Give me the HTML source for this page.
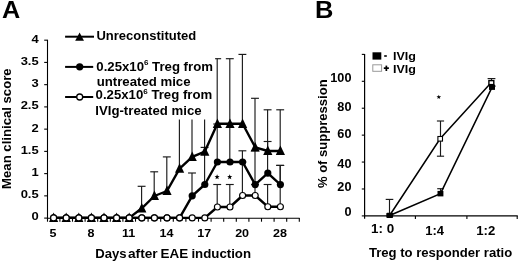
<!DOCTYPE html>
<html><head><meta charset="utf-8"><style>
html,body{margin:0;padding:0;background:#fff;}
svg{display:block;filter:grayscale(1);}
text{font-family:"Liberation Sans",sans-serif;font-weight:bold;}
</style></head><body>
<svg width="520" height="263" viewBox="0 0 520 263">
<rect width="520" height="263" fill="#fff"/>
<text transform="translate(2.10,17.80) scale(1.030,1)" font-size="24.5" >A</text>
<line x1="47.5" y1="39.78" x2="47.5" y2="218.70" stroke="#000" stroke-width="1.1"/>
<line x1="44.2" y1="218.10" x2="47.5" y2="218.10" stroke="#000" stroke-width="1.1"/>
<text transform="translate(38.70,220.21) scale(1.150,1)" font-size="11.3" text-anchor="end" >0</text>
<line x1="44.2" y1="195.86" x2="47.5" y2="195.86" stroke="#000" stroke-width="1.1"/>
<text transform="translate(38.70,198.16) scale(1.150,1)" font-size="11.3" text-anchor="end" >0.5</text>
<line x1="44.2" y1="173.62" x2="47.5" y2="173.62" stroke="#000" stroke-width="1.1"/>
<text transform="translate(38.70,176.16) scale(1.150,1)" font-size="11.3" text-anchor="end" >1</text>
<line x1="44.2" y1="151.38" x2="47.5" y2="151.38" stroke="#000" stroke-width="1.1"/>
<text transform="translate(38.70,153.66) scale(1.150,1)" font-size="11.3" text-anchor="end" >1.5</text>
<line x1="44.2" y1="129.14" x2="47.5" y2="129.14" stroke="#000" stroke-width="1.1"/>
<text transform="translate(38.70,131.56) scale(1.150,1)" font-size="11.3" text-anchor="end" >2</text>
<line x1="44.2" y1="106.90" x2="47.5" y2="106.90" stroke="#000" stroke-width="1.1"/>
<text transform="translate(38.70,109.05) scale(1.150,1)" font-size="11.3" text-anchor="end" >2.5</text>
<line x1="44.2" y1="84.66" x2="47.5" y2="84.66" stroke="#000" stroke-width="1.1"/>
<text transform="translate(38.70,87.36) scale(1.150,1)" font-size="11.3" text-anchor="end" >3</text>
<line x1="44.2" y1="62.42" x2="47.5" y2="62.42" stroke="#000" stroke-width="1.1"/>
<text transform="translate(38.70,64.86) scale(1.150,1)" font-size="11.3" text-anchor="end" >3.5</text>
<line x1="44.2" y1="40.18" x2="47.5" y2="40.18" stroke="#000" stroke-width="1.1"/>
<text transform="translate(38.70,43.30) scale(1.150,1)" font-size="11.3" text-anchor="end" >4</text>
<line x1="47.5" y1="218.30" x2="299.6" y2="218.30" stroke="#000" stroke-width="1.1"/>
<line x1="47.50" y1="218.10" x2="47.50" y2="221.70" stroke="#000" stroke-width="1.1"/>
<line x1="59.90" y1="218.10" x2="59.90" y2="221.70" stroke="#000" stroke-width="1.1"/>
<line x1="72.50" y1="218.10" x2="72.50" y2="221.70" stroke="#000" stroke-width="1.1"/>
<line x1="85.10" y1="218.10" x2="85.10" y2="221.70" stroke="#000" stroke-width="1.1"/>
<line x1="97.70" y1="218.10" x2="97.70" y2="221.70" stroke="#000" stroke-width="1.1"/>
<line x1="110.30" y1="218.10" x2="110.30" y2="221.70" stroke="#000" stroke-width="1.1"/>
<line x1="122.90" y1="218.10" x2="122.90" y2="221.70" stroke="#000" stroke-width="1.1"/>
<line x1="135.50" y1="218.10" x2="135.50" y2="221.70" stroke="#000" stroke-width="1.1"/>
<line x1="148.10" y1="218.10" x2="148.10" y2="221.70" stroke="#000" stroke-width="1.1"/>
<line x1="160.70" y1="218.10" x2="160.70" y2="221.70" stroke="#000" stroke-width="1.1"/>
<line x1="173.30" y1="218.10" x2="173.30" y2="221.70" stroke="#000" stroke-width="1.1"/>
<line x1="185.90" y1="218.10" x2="185.90" y2="221.70" stroke="#000" stroke-width="1.1"/>
<line x1="198.50" y1="218.10" x2="198.50" y2="221.70" stroke="#000" stroke-width="1.1"/>
<line x1="211.10" y1="218.10" x2="211.10" y2="221.70" stroke="#000" stroke-width="1.1"/>
<line x1="223.70" y1="218.10" x2="223.70" y2="221.70" stroke="#000" stroke-width="1.1"/>
<line x1="236.30" y1="218.10" x2="236.30" y2="221.70" stroke="#000" stroke-width="1.1"/>
<line x1="248.90" y1="218.10" x2="248.90" y2="221.70" stroke="#000" stroke-width="1.1"/>
<line x1="261.50" y1="218.10" x2="261.50" y2="221.70" stroke="#000" stroke-width="1.1"/>
<line x1="274.10" y1="218.10" x2="274.10" y2="221.70" stroke="#000" stroke-width="1.1"/>
<line x1="286.70" y1="218.10" x2="286.70" y2="221.70" stroke="#000" stroke-width="1.1"/>
<line x1="299.30" y1="218.10" x2="299.30" y2="221.70" stroke="#000" stroke-width="1.1"/>
<text transform="translate(53.10,237.40) scale(1.100,1)" font-size="11.4" text-anchor="middle" >5</text>
<text transform="translate(90.90,237.40) scale(1.100,1)" font-size="11.4" text-anchor="middle" >8</text>
<text transform="translate(128.70,237.40) scale(1.100,1)" font-size="11.4" text-anchor="middle" >11</text>
<text transform="translate(166.50,237.40) scale(1.100,1)" font-size="11.4" text-anchor="middle" >14</text>
<text transform="translate(204.30,237.40) scale(1.100,1)" font-size="11.4" text-anchor="middle" >17</text>
<text transform="translate(242.10,237.40) scale(1.100,1)" font-size="11.4" text-anchor="middle" >20</text>
<text transform="translate(279.90,237.40) scale(1.100,1)" font-size="11.4" text-anchor="middle" >28</text>
<text transform="translate(95.35,258.40)" font-size="13.1" >Days</text>
<text transform="translate(128.00,258.40) scale(1.045,1)" font-size="13.1" >after</text>
<text transform="translate(160.60,258.40) scale(1.027,1)" font-size="13.1" >EAE</text>
<text transform="translate(191.40,258.40) scale(1.013,1)" font-size="13.1" >induction</text>
<text transform="translate(11.30,188.90) rotate(-90)" font-size="13.15" >Mean clinical score</text>
<line x1="141.60" y1="208.30" x2="141.60" y2="186.30" stroke="#1a1a1a" stroke-width="1.15"/><line x1="137.65" y1="186.30" x2="145.55" y2="186.30" stroke="#1a1a1a" stroke-width="1.15"/>
<line x1="154.20" y1="196.00" x2="154.20" y2="171.80" stroke="#1a1a1a" stroke-width="1.15"/><line x1="150.25" y1="171.80" x2="158.15" y2="171.80" stroke="#1a1a1a" stroke-width="1.15"/>
<line x1="166.80" y1="191.00" x2="166.80" y2="156.90" stroke="#1a1a1a" stroke-width="1.15"/><line x1="162.85" y1="156.90" x2="170.75" y2="156.90" stroke="#1a1a1a" stroke-width="1.15"/>
<line x1="179.40" y1="168.60" x2="179.40" y2="100.00" stroke="#1a1a1a" stroke-width="1.15"/><line x1="175.45" y1="100.00" x2="183.35" y2="100.00" stroke="#1a1a1a" stroke-width="1.15"/>
<line x1="192.00" y1="156.80" x2="192.00" y2="100.00" stroke="#1a1a1a" stroke-width="1.15"/><line x1="188.05" y1="100.00" x2="195.95" y2="100.00" stroke="#1a1a1a" stroke-width="1.15"/>
<line x1="204.60" y1="151.60" x2="204.60" y2="100.00" stroke="#1a1a1a" stroke-width="1.15"/><line x1="200.65" y1="100.00" x2="208.55" y2="100.00" stroke="#1a1a1a" stroke-width="1.15"/>
<line x1="217.20" y1="123.80" x2="217.20" y2="58.70" stroke="#1a1a1a" stroke-width="1.15"/><line x1="213.25" y1="58.70" x2="221.15" y2="58.70" stroke="#1a1a1a" stroke-width="1.15"/>
<line x1="229.80" y1="123.80" x2="229.80" y2="58.70" stroke="#1a1a1a" stroke-width="1.15"/><line x1="225.85" y1="58.70" x2="233.75" y2="58.70" stroke="#1a1a1a" stroke-width="1.15"/>
<line x1="242.40" y1="123.80" x2="242.40" y2="54.40" stroke="#1a1a1a" stroke-width="1.15"/><line x1="238.45" y1="54.40" x2="246.35" y2="54.40" stroke="#1a1a1a" stroke-width="1.15"/>
<line x1="255.00" y1="147.30" x2="255.00" y2="98.30" stroke="#1a1a1a" stroke-width="1.15"/><line x1="251.05" y1="98.30" x2="258.95" y2="98.30" stroke="#1a1a1a" stroke-width="1.15"/>
<line x1="267.60" y1="151.00" x2="267.60" y2="109.80" stroke="#1a1a1a" stroke-width="1.15"/><line x1="263.65" y1="109.80" x2="271.55" y2="109.80" stroke="#1a1a1a" stroke-width="1.15"/>
<line x1="280.20" y1="151.00" x2="280.20" y2="109.80" stroke="#1a1a1a" stroke-width="1.15"/><line x1="276.25" y1="109.80" x2="284.15" y2="109.80" stroke="#1a1a1a" stroke-width="1.15"/>
<line x1="192.00" y1="195.80" x2="192.00" y2="173.00" stroke="#1a1a1a" stroke-width="1.15"/><line x1="188.05" y1="173.00" x2="195.95" y2="173.00" stroke="#1a1a1a" stroke-width="1.15"/>
<line x1="204.60" y1="184.50" x2="204.60" y2="147.40" stroke="#1a1a1a" stroke-width="1.15"/><line x1="200.65" y1="147.40" x2="208.55" y2="147.40" stroke="#1a1a1a" stroke-width="1.15"/>
<line x1="217.20" y1="162.00" x2="217.20" y2="124.00" stroke="#1a1a1a" stroke-width="1.15"/><line x1="213.25" y1="124.00" x2="221.15" y2="124.00" stroke="#1a1a1a" stroke-width="1.15"/>
<line x1="229.80" y1="162.00" x2="229.80" y2="124.00" stroke="#1a1a1a" stroke-width="1.15"/><line x1="225.85" y1="124.00" x2="233.75" y2="124.00" stroke="#1a1a1a" stroke-width="1.15"/>
<line x1="242.40" y1="162.00" x2="242.40" y2="150.80" stroke="#1a1a1a" stroke-width="1.15"/><line x1="238.45" y1="150.80" x2="246.35" y2="150.80" stroke="#1a1a1a" stroke-width="1.15"/>
<line x1="255.00" y1="184.60" x2="255.00" y2="150.80" stroke="#1a1a1a" stroke-width="1.15"/><line x1="251.05" y1="150.80" x2="258.95" y2="150.80" stroke="#1a1a1a" stroke-width="1.15"/>
<line x1="267.60" y1="173.10" x2="267.60" y2="141.50" stroke="#1a1a1a" stroke-width="1.15"/><line x1="263.65" y1="141.50" x2="271.55" y2="141.50" stroke="#1a1a1a" stroke-width="1.15"/>
<line x1="280.20" y1="184.60" x2="280.20" y2="165.40" stroke="#1a1a1a" stroke-width="1.15"/><line x1="276.25" y1="165.40" x2="284.15" y2="165.40" stroke="#1a1a1a" stroke-width="1.15"/>
<line x1="217.20" y1="207.00" x2="217.20" y2="184.50" stroke="#1a1a1a" stroke-width="1.15"/><line x1="213.25" y1="184.50" x2="221.15" y2="184.50" stroke="#1a1a1a" stroke-width="1.15"/>
<line x1="229.80" y1="207.00" x2="229.80" y2="184.50" stroke="#1a1a1a" stroke-width="1.15"/><line x1="225.85" y1="184.50" x2="233.75" y2="184.50" stroke="#1a1a1a" stroke-width="1.15"/>
<line x1="242.40" y1="195.50" x2="242.40" y2="162.00" stroke="#1a1a1a" stroke-width="1.15"/><line x1="238.45" y1="162.00" x2="246.35" y2="162.00" stroke="#1a1a1a" stroke-width="1.15"/>
<line x1="255.00" y1="195.50" x2="255.00" y2="184.60" stroke="#1a1a1a" stroke-width="1.15"/><line x1="251.05" y1="184.60" x2="258.95" y2="184.60" stroke="#1a1a1a" stroke-width="1.15"/>
<line x1="267.60" y1="206.70" x2="267.60" y2="184.50" stroke="#1a1a1a" stroke-width="1.15"/><line x1="263.65" y1="184.50" x2="271.55" y2="184.50" stroke="#1a1a1a" stroke-width="1.15"/>
<line x1="280.20" y1="206.70" x2="280.20" y2="165.40" stroke="#1a1a1a" stroke-width="1.15"/><line x1="276.25" y1="165.40" x2="284.15" y2="165.40" stroke="#1a1a1a" stroke-width="1.15"/>
<polyline points="53.60,217.90 66.20,217.90 78.80,217.90 91.40,217.90 104.00,217.90 116.60,217.90 129.20,217.90 141.80,208.30 154.40,196.00 167.00,191.00 179.60,168.60 192.20,156.80 204.80,151.60 217.40,123.80 230.00,123.80 242.60,123.80 255.20,147.30 267.80,151.00 280.40,151.00" fill="none" stroke="#000" stroke-width="2.4" stroke-linejoin="round"/>
<path d="M53.60,212.50 L58.20,222.00 L49.00,222.00 Z" fill="#000"/>
<path d="M66.20,212.50 L70.80,222.00 L61.60,222.00 Z" fill="#000"/>
<path d="M78.80,212.50 L83.40,222.00 L74.20,222.00 Z" fill="#000"/>
<path d="M91.40,212.50 L96.00,222.00 L86.80,222.00 Z" fill="#000"/>
<path d="M104.00,212.50 L108.60,222.00 L99.40,222.00 Z" fill="#000"/>
<path d="M116.60,212.50 L121.20,222.00 L112.00,222.00 Z" fill="#000"/>
<path d="M129.20,212.50 L133.80,222.00 L124.60,222.00 Z" fill="#000"/>
<path d="M141.80,202.90 L146.40,212.40 L137.20,212.40 Z" fill="#000"/>
<path d="M154.40,190.60 L159.00,200.10 L149.80,200.10 Z" fill="#000"/>
<path d="M167.00,185.60 L171.60,195.10 L162.40,195.10 Z" fill="#000"/>
<path d="M179.60,163.20 L184.20,172.70 L175.00,172.70 Z" fill="#000"/>
<path d="M192.20,151.40 L196.80,160.90 L187.60,160.90 Z" fill="#000"/>
<path d="M204.80,146.20 L209.40,155.70 L200.20,155.70 Z" fill="#000"/>
<path d="M217.40,118.40 L222.00,127.90 L212.80,127.90 Z" fill="#000"/>
<path d="M230.00,118.40 L234.60,127.90 L225.40,127.90 Z" fill="#000"/>
<path d="M242.60,118.40 L247.20,127.90 L238.00,127.90 Z" fill="#000"/>
<path d="M255.20,141.90 L259.80,151.40 L250.60,151.40 Z" fill="#000"/>
<path d="M267.80,145.60 L272.40,155.10 L263.20,155.10 Z" fill="#000"/>
<path d="M280.40,145.60 L285.00,155.10 L275.80,155.10 Z" fill="#000"/>
<polyline points="53.60,217.90 66.20,217.90 78.80,217.90 91.40,217.90 104.00,217.90 116.60,217.90 129.20,217.90 141.80,217.90 154.40,217.90 167.00,217.90 179.60,217.90 192.20,195.80 204.80,184.50 217.40,162.00 230.00,162.00 242.60,162.00 255.20,184.60 267.80,173.10 280.40,184.60" fill="none" stroke="#000" stroke-width="2.4" stroke-linejoin="round"/>
<circle cx="53.60" cy="217.90" r="3.6" fill="#000"/>
<circle cx="66.20" cy="217.90" r="3.6" fill="#000"/>
<circle cx="78.80" cy="217.90" r="3.6" fill="#000"/>
<circle cx="91.40" cy="217.90" r="3.6" fill="#000"/>
<circle cx="104.00" cy="217.90" r="3.6" fill="#000"/>
<circle cx="116.60" cy="217.90" r="3.6" fill="#000"/>
<circle cx="129.20" cy="217.90" r="3.6" fill="#000"/>
<circle cx="141.80" cy="217.90" r="3.6" fill="#000"/>
<circle cx="154.40" cy="217.90" r="3.6" fill="#000"/>
<circle cx="167.00" cy="217.90" r="3.6" fill="#000"/>
<circle cx="179.60" cy="217.90" r="3.6" fill="#000"/>
<circle cx="192.20" cy="195.80" r="3.6" fill="#000"/>
<circle cx="204.80" cy="184.50" r="3.6" fill="#000"/>
<circle cx="217.40" cy="162.00" r="3.6" fill="#000"/>
<circle cx="230.00" cy="162.00" r="3.6" fill="#000"/>
<circle cx="242.60" cy="162.00" r="3.6" fill="#000"/>
<circle cx="255.20" cy="184.60" r="3.6" fill="#000"/>
<circle cx="267.80" cy="173.10" r="3.6" fill="#000"/>
<circle cx="280.40" cy="184.60" r="3.6" fill="#000"/>
<polyline points="53.60,217.90 66.20,217.90 78.80,217.90 91.40,217.90 104.00,217.90 116.60,217.90 129.20,217.90 141.80,217.90 154.40,217.90 167.00,217.90 179.60,217.90 192.20,217.90 204.80,217.90 217.40,207.00 230.00,207.00 242.60,195.50 255.20,195.50 267.80,206.70 280.40,206.70" fill="none" stroke="#000" stroke-width="2.4" stroke-linejoin="round"/>
<circle cx="53.60" cy="217.90" r="3.0" fill="#fff" stroke="#000" stroke-width="1.15"/>
<circle cx="66.20" cy="217.90" r="3.0" fill="#fff" stroke="#000" stroke-width="1.15"/>
<circle cx="78.80" cy="217.90" r="3.0" fill="#fff" stroke="#000" stroke-width="1.15"/>
<circle cx="91.40" cy="217.90" r="3.0" fill="#fff" stroke="#000" stroke-width="1.15"/>
<circle cx="104.00" cy="217.90" r="3.0" fill="#fff" stroke="#000" stroke-width="1.15"/>
<circle cx="116.60" cy="217.90" r="3.0" fill="#fff" stroke="#000" stroke-width="1.15"/>
<circle cx="129.20" cy="217.90" r="3.0" fill="#fff" stroke="#000" stroke-width="1.15"/>
<circle cx="141.80" cy="217.90" r="3.0" fill="#fff" stroke="#000" stroke-width="1.15"/>
<circle cx="154.40" cy="217.90" r="3.0" fill="#fff" stroke="#000" stroke-width="1.15"/>
<circle cx="167.00" cy="217.90" r="3.0" fill="#fff" stroke="#000" stroke-width="1.15"/>
<circle cx="179.60" cy="217.90" r="3.0" fill="#fff" stroke="#000" stroke-width="1.15"/>
<circle cx="192.20" cy="217.90" r="3.0" fill="#fff" stroke="#000" stroke-width="1.15"/>
<circle cx="204.80" cy="217.90" r="3.0" fill="#fff" stroke="#000" stroke-width="1.15"/>
<circle cx="217.40" cy="207.00" r="3.0" fill="#fff" stroke="#000" stroke-width="1.15"/>
<circle cx="230.00" cy="207.00" r="3.0" fill="#fff" stroke="#000" stroke-width="1.15"/>
<circle cx="242.60" cy="195.50" r="3.0" fill="#fff" stroke="#000" stroke-width="1.15"/>
<circle cx="255.20" cy="195.50" r="3.0" fill="#fff" stroke="#000" stroke-width="1.15"/>
<circle cx="267.80" cy="206.70" r="3.0" fill="#fff" stroke="#000" stroke-width="1.15"/>
<circle cx="280.40" cy="206.70" r="3.0" fill="#fff" stroke="#000" stroke-width="1.15"/>
<polygon points="217.10,174.30 217.78,176.07 219.67,176.17 218.19,177.36 218.69,179.18 217.10,178.15 215.51,179.18 216.01,177.36 214.53,176.17 216.42,176.07" fill="#000"/>
<polygon points="229.70,174.30 230.38,176.07 232.27,176.17 230.79,177.36 231.29,179.18 229.70,178.15 228.11,179.18 228.61,177.36 227.13,176.17 229.02,176.07" fill="#000"/>
<rect x="60" y="27" width="155.1" height="92.5" fill="#fff"/>
<line x1="65.1" y1="36.7" x2="94" y2="36.7" stroke="#000" stroke-width="2"/>
<path d="M79.60,32.50 L84.00,40.80 L75.20,40.80 Z" fill="#000"/>
<text transform="translate(96.40,40.35) scale(0.987,1)" font-size="13.2" >Unreconstituted</text>
<line x1="65.1" y1="66.9" x2="93.2" y2="66.9" stroke="#000" stroke-width="2"/>
<circle cx="79.7" cy="66.8" r="3.65" fill="#000"/>
<text transform="translate(96.30,70.50)" font-size="13.2" >0.25x10<tspan font-size="8" dy="-5.3">6</tspan><tspan dy="5.3"> Treg from</tspan></text>
<text transform="translate(96.70,85.80)" font-size="13.2" >untreated mice</text>
<line x1="65.1" y1="97" x2="93.2" y2="97" stroke="#000" stroke-width="2"/>
<circle cx="79.7" cy="97" r="3.0" fill="#fff" stroke="#000" stroke-width="1.3"/>
<text transform="translate(95.60,99.40)" font-size="13.2" >0.25x10<tspan font-size="8" dy="-5.3">6</tspan><tspan dy="5.3"> Treg from</tspan></text>
<text transform="translate(95.30,114.90)" font-size="13.2" >IVIg-treated mice</text>
<text transform="translate(315.00,17.80) scale(1.040,1)" font-size="24.5" >B</text>
<line x1="364.6" y1="53.98" x2="364.6" y2="218.80" stroke="#000" stroke-width="1.2"/>
<line x1="361.8" y1="215.90" x2="364.6" y2="215.90" stroke="#000" stroke-width="1.1"/>
<line x1="361.8" y1="188.98" x2="364.6" y2="188.98" stroke="#000" stroke-width="1.1"/>
<line x1="361.8" y1="162.06" x2="364.6" y2="162.06" stroke="#000" stroke-width="1.1"/>
<line x1="361.8" y1="135.14" x2="364.6" y2="135.14" stroke="#000" stroke-width="1.1"/>
<line x1="361.8" y1="108.22" x2="364.6" y2="108.22" stroke="#000" stroke-width="1.1"/>
<line x1="361.8" y1="81.30" x2="364.6" y2="81.30" stroke="#000" stroke-width="1.1"/>
<line x1="361.8" y1="54.38" x2="364.6" y2="54.38" stroke="#000" stroke-width="1.1"/>
<text transform="translate(351.50,215.80) scale(1.060,1)" font-size="12" text-anchor="end" >0</text>
<text transform="translate(351.50,190.90) scale(1.060,1)" font-size="12" text-anchor="end" >20</text>
<text transform="translate(351.50,168.30) scale(1.060,1)" font-size="12" text-anchor="end" >40</text>
<text transform="translate(351.50,137.50) scale(1.060,1)" font-size="12" text-anchor="end" >60</text>
<text transform="translate(351.50,110.90) scale(1.060,1)" font-size="12" text-anchor="end" >80</text>
<text transform="translate(351.50,81.60) scale(1.060,1)" font-size="12" text-anchor="end" >100</text>
<line x1="364.6" y1="215.9" x2="517.8" y2="215.9" stroke="#000" stroke-width="1.1"/>
<line x1="415.4" y1="215.9" x2="415.4" y2="219.1" stroke="#000" stroke-width="1.1"/>
<line x1="466.9" y1="215.9" x2="466.9" y2="219.1" stroke="#000" stroke-width="1.1"/>
<line x1="517.2" y1="215.9" x2="517.2" y2="219.1" stroke="#000" stroke-width="1.1"/>
<text transform="translate(371.10,233.20) scale(1.080,1)" font-size="12.4" >1: 0</text>
<text transform="translate(425.20,235.30)" font-size="13" >1:4</text>
<text transform="translate(476.20,234.70) scale(1.030,1)" font-size="12.8" >1:2</text>
<text transform="translate(368.90,256.90)" font-size="13.1" >Treg to responder ratio</text>
<text transform="translate(327.00,188.10) rotate(-90)" font-size="13.05" >% of suppression</text>
<line x1="389.50" y1="215.50" x2="389.50" y2="199.40" stroke="#1a1a1a" stroke-width="1.15"/><line x1="385.70" y1="199.40" x2="393.30" y2="199.40" stroke="#1a1a1a" stroke-width="1.15"/>
<line x1="440.50" y1="138.80" x2="440.50" y2="121.00" stroke="#1a1a1a" stroke-width="1.15"/><line x1="436.90" y1="121.00" x2="444.10" y2="121.00" stroke="#1a1a1a" stroke-width="1.15"/>
<line x1="440.50" y1="138.80" x2="440.50" y2="156.20" stroke="#1a1a1a" stroke-width="1.15"/><line x1="436.90" y1="156.20" x2="444.10" y2="156.20" stroke="#1a1a1a" stroke-width="1.15"/>
<line x1="440.50" y1="193.70" x2="440.50" y2="188.70" stroke="#1a1a1a" stroke-width="1.15"/><line x1="437.20" y1="188.70" x2="443.80" y2="188.70" stroke="#1a1a1a" stroke-width="1.15"/>
<line x1="491.50" y1="82.50" x2="491.50" y2="78.60" stroke="#1a1a1a" stroke-width="1.15"/><line x1="487.60" y1="78.60" x2="495.40" y2="78.60" stroke="#1a1a1a" stroke-width="1.15"/>
<line x1="489" y1="86.1" x2="495.8" y2="86.1" stroke="#1a1a1a" stroke-width="1"/>
<polyline points="389.6,215.5 440.1,138.8 491.3,82.5" fill="none" stroke="#000" stroke-width="1.5"/>
<polyline points="389.6,215.5 440.45,193.65 492,87.3" fill="none" stroke="#000" stroke-width="1.5"/>
<rect x="386.3" y="212.8" width="6.8" height="5.2" rx="1" fill="#000"/>
<rect x="437.5" y="190.9" width="5.9" height="5.5" fill="#000"/>
<rect x="489" y="84.6" width="6" height="5.3" fill="#000"/>
<rect x="437.9" y="136.5" width="4.6" height="4.6" fill="#fff" stroke="#000" stroke-width="1.1"/>
<rect x="488.9" y="80.6" width="4.9" height="4.0" fill="#fff" stroke="#000" stroke-width="1.4"/>
<polygon points="438.80,94.70 439.39,96.29 441.08,96.36 439.75,97.41 440.21,99.04 438.80,98.10 437.39,99.04 437.85,97.41 436.52,96.36 438.21,96.29" fill="#000"/>
<rect x="372.5" y="52.3" width="8.8" height="7.3" fill="#000"/>
<rect x="384.2" y="55.2" width="2.6" height="1.6" fill="#000"/>
<text transform="translate(393.00,60.20) scale(1.070,1)" font-size="11.7" >IVIg</text>
<rect x="372.8" y="64.8" width="8.8" height="6.5" fill="#fff" stroke="#999" stroke-width="1"/>
<rect x="383.8" y="67.3" width="5.1" height="1.7" fill="#000"/><rect x="385.5" y="65.6" width="1.7" height="5.4" fill="#000"/>
<text transform="translate(393.00,73.40) scale(1.070,1)" font-size="11.7" >IVIg</text>
</svg>
</body></html>
